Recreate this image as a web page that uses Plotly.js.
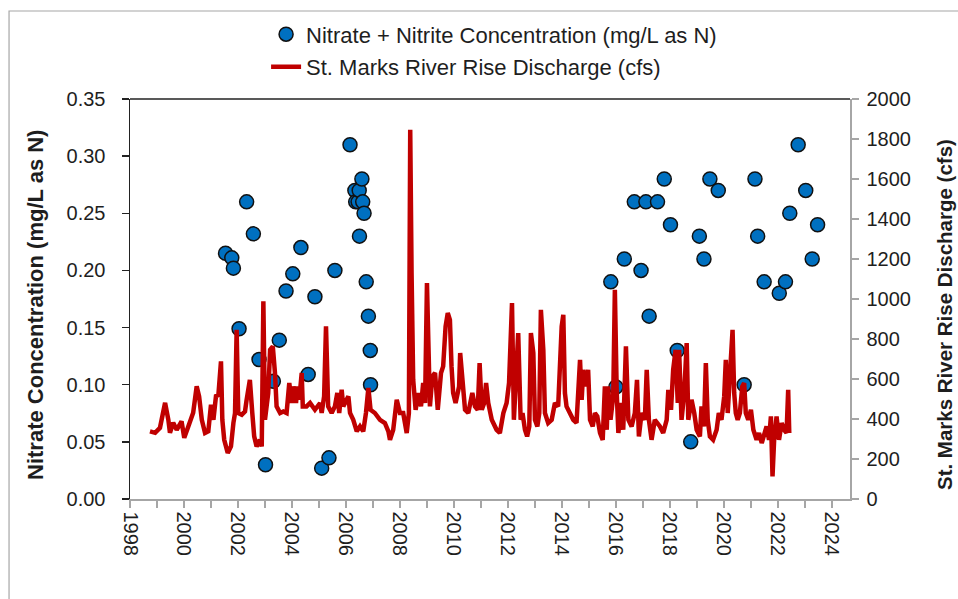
<!DOCTYPE html>
<html>
<head>
<meta charset="utf-8">
<script src="https://cdn.plot.ly/plotly-3.0.1.min.js"></script>
<style>
  html, body { margin: 0; padding: 0; background: #ffffff; }
  #chart { width: 958px; height: 599px; }
</style>
</head>
<body>
<div id="chart"></div>
<script>
// ---- Data ----
const nitrateYears = [
  2001.54, 2001.77, 2001.83, 2002.04, 2002.32, 2002.57, 2002.78, 2003.02, 2003.31, 2003.53,
  2003.78, 2004.03, 2004.33, 2004.60, 2004.85, 2005.10, 2005.37, 2005.59, 2006.15, 2006.33,
  2006.36, 2006.45, 2006.49, 2006.50, 2006.59, 2006.62, 2006.67, 2006.75, 2006.83, 2006.90,
  2006.91, 2015.81, 2016.00, 2016.31, 2016.68, 2016.93, 2017.11, 2017.23, 2017.54, 2017.79,
  2018.02, 2018.27, 2018.77, 2019.09, 2019.26, 2019.48, 2019.79, 2020.75, 2021.15, 2021.25,
  2021.49, 2022.05, 2022.28, 2022.44, 2022.75, 2023.03, 2023.27, 2023.47
];
const nitrateValues = [
  0.215, 0.211, 0.202, 0.149, 0.260, 0.232, 0.122, 0.030, 0.103, 0.139,
  0.182, 0.197, 0.220, 0.109, 0.177, 0.027, 0.036, 0.200, 0.310, 0.270,
  0.260, 0.260, 0.270, 0.230, 0.280, 0.260, 0.250, 0.190, 0.160, 0.130,
  0.100, 0.190, 0.098, 0.210, 0.260, 0.200, 0.260, 0.160, 0.260, 0.280,
  0.240, 0.130, 0.050, 0.230, 0.210, 0.280, 0.270, 0.100, 0.280, 0.230,
  0.190, 0.180, 0.190, 0.250, 0.310, 0.270, 0.210, 0.240
];

const dischargeYears = [
  1998.74, 1998.93, 1999.11, 1999.30, 1999.42, 1999.48, 1999.60, 1999.73, 1999.91, 2000.01,
  2000.16, 2000.34, 2000.47, 2000.56, 2000.66, 2000.78, 2000.90, 2001.00, 2001.09, 2001.19,
  2001.27, 2001.37, 2001.42, 2001.49, 2001.62, 2001.74, 2001.83, 2001.89, 2001.95, 2002.01,
  2002.14, 2002.26, 2002.32, 2002.44, 2002.53, 2002.60, 2002.69, 2002.81, 2002.88, 2002.94,
  2003.00, 2003.12, 2003.19, 2003.29, 2003.37, 2003.43, 2003.56, 2003.68, 2003.80, 2003.90,
  2003.99, 2004.05, 2004.15, 2004.20, 2004.27, 2004.36, 2004.40, 2004.54, 2004.67, 2004.85,
  2005.04, 2005.10, 2005.19, 2005.26, 2005.34, 2005.47, 2005.59, 2005.68, 2005.75, 2005.84,
  2005.90, 2006.00, 2006.09, 2006.15, 2006.27, 2006.40, 2006.52, 2006.64, 2006.74, 2006.83,
  2006.91, 2007.07, 2007.26, 2007.44, 2007.57, 2007.63, 2007.75, 2007.88, 2008.00, 2008.12,
  2008.25, 2008.33, 2008.38, 2008.43, 2008.49, 2008.58, 2008.68, 2008.78, 2008.86, 2008.93,
  2009.00, 2009.05, 2009.11, 2009.20, 2009.30, 2009.40, 2009.52, 2009.60, 2009.69, 2009.77,
  2009.85, 2009.91, 2009.97, 2010.06, 2010.19, 2010.23, 2010.31, 2010.41, 2010.53, 2010.68,
  2010.78, 2010.88, 2010.95, 2011.03, 2011.12, 2011.19, 2011.27, 2011.40, 2011.58, 2011.70,
  2011.83, 2011.95, 2012.04, 2012.15, 2012.22, 2012.38, 2012.47, 2012.54, 2012.63, 2012.71,
  2012.79, 2012.85, 2012.94, 2013.00, 2013.09, 2013.16, 2013.22, 2013.31, 2013.37, 2013.49,
  2013.62, 2013.74, 2013.86, 2013.93, 2013.99, 2014.05, 2014.11, 2014.17, 2014.30, 2014.42,
  2014.54, 2014.67, 2014.73, 2014.79, 2014.89, 2014.97, 2015.04, 2015.14, 2015.22, 2015.31,
  2015.41, 2015.51, 2015.59, 2015.66, 2015.71, 2015.80, 2015.90, 2015.96, 2016.03, 2016.09,
  2016.19, 2016.27, 2016.37, 2016.46, 2016.58, 2016.70, 2016.78, 2016.85, 2016.95, 2017.07,
  2017.14, 2017.22, 2017.32, 2017.44, 2017.63, 2017.75, 2017.88, 2017.94, 2018.04, 2018.12,
  2018.21, 2018.29, 2018.34, 2018.43, 2018.53, 2018.62, 2018.68, 2018.80, 2018.90, 2018.99,
  2019.11, 2019.17, 2019.26, 2019.33, 2019.40, 2019.48, 2019.60, 2019.73, 2019.81, 2019.91,
  2020.01, 2020.07, 2020.14, 2020.22, 2020.32, 2020.38, 2020.44, 2020.51, 2020.59, 2020.68,
  2020.75, 2020.81, 2020.90, 2021.00, 2021.09, 2021.21, 2021.30, 2021.40, 2021.49, 2021.58,
  2021.67, 2021.74, 2021.80, 2021.86, 2021.95, 2022.04, 2022.14, 2022.23, 2022.32, 2022.38,
  2022.42
];
const dischargeCfs = [
  338, 331, 356, 481, 396, 331, 381, 346, 388, 306,
  363, 431, 563, 513, 396, 330, 338, 471, 396, 521,
  513, 688, 396, 296, 230, 263, 380, 430, 846, 430,
  421, 438, 496, 596, 430, 313, 263, 296, 263, 988,
  396, 530, 746, 763, 630, 463, 430, 438, 430, 580,
  480, 563, 480, 563, 496, 630, 463, 463, 480, 446,
  480, 430, 513, 863, 463, 430, 463, 530, 430, 546,
  463, 496, 513, 430, 396, 338, 363, 338, 430, 555,
  446, 430, 396, 380, 338, 296, 346, 496, 430, 430,
  330, 430, 1846, 1130, 596, 446, 530, 463, 580, 480,
  1080, 796, 463, 613, 630, 446, 630, 663, 863, 930,
  896, 663, 530, 480, 563, 730, 596, 446, 430, 530,
  463, 446, 680, 446, 480, 580, 480, 396, 346, 330,
  430, 480, 580, 980, 396, 830, 396, 430, 346, 313,
  363, 830, 730, 396, 363, 430, 946, 746, 430, 380,
  396, 480, 463, 746, 863, 921, 530, 463, 430, 396,
  380, 696, 496, 646, 563, 646, 396, 363, 430, 413,
  330, 296, 563, 346, 563, 396, 513, 1046, 530, 330,
  480, 346, 763, 396, 363, 430, 596, 313, 430, 396,
  646, 396, 296, 396, 363, 330, 396, 546, 446, 646,
  746, 480, 746, 396, 530, 780, 396, 496, 430, 346,
  313, 463, 363, 680, 396, 313, 296, 346, 430, 396,
  513, 696, 430, 630, 846, 530, 430, 396, 430, 563,
  580, 430, 396, 446, 346, 296, 330, 280, 330, 363,
  296, 413, 113, 296, 413, 296, 380, 346, 330, 546,
  330
];

const xTickValues = [1998, 2000, 2002, 2004, 2006, 2008, 2010, 2012, 2014, 2016, 2018, 2020, 2022, 2024];
const xTickLabels = ['1998', '2000', '2002', '2004', '2006', '2008', '2010', '2012', '2014', '2016', '2018', '2020', '2022', '2024'];

const nitrateName = 'Nitrate + Nitrite Concentration (mg/L as N)';
const dischargeName = 'St. Marks River Rise Discharge (cfs)';
const leftTitle = 'Nitrate Concentration (mg/L as N)';
const rightTitle = 'St. Marks River Rise Discharge (cfs)';

// ---- Chart ----
const FONT = "'Liberation Sans', Arial, sans-serif";
const TXT = '#1e1e1e';

const traces = [
  {
    x: nitrateYears, y: nitrateValues,
    type: 'scatter', mode: 'markers', name: nitrateName,
    legendgroup: 'a',
    marker: { color: '#0070C0', size: 14, line: { color: '#111111', width: 1.5 } },
    yaxis: 'y', hoverinfo: 'x+y'
  },
  {
    x: dischargeYears, y: dischargeCfs,
    type: 'scatter', mode: 'lines', name: dischargeName,
    legendgroup: 'b',
    line: { color: '#C00000', width: 4.5 },
    yaxis: 'y2', hoverinfo: 'x+y'
  }
];

const layout = {
  width: 958, height: 599,
  margin: { l: 130, r: 108, t: 99, b: 100, pad: 0 },
  paper_bgcolor: '#ffffff', plot_bgcolor: '#ffffff',
  font: { family: FONT, size: 20, color: TXT },
  showlegend: true,
  legend: {
    x: 0.189, xanchor: 'left', y: 1.214, yanchor: 'top',
    bgcolor: 'rgba(0,0,0,0)', borderwidth: 0,
    font: { family: FONT, size: 22, color: TXT },
    traceorder: 'grouped', tracegroupgap: 1
  },
  xaxis: {
    range: [1998, 2024.67], tickmode: 'array', tickvals: xTickValues, ticktext: xTickLabels,
    tickangle: 90, ticks: 'outside', ticklen: 7, tickwidth: 1.3, tickcolor: '#a6a6a6',
    showline: true, linecolor: '#a6a6a6', linewidth: 1.5,
    showgrid: false, zeroline: false,
    minor: { dtick: 1, tick0: 1998, ticks: 'outside', ticklen: 7, tickwidth: 1.3, tickcolor: '#a6a6a6', showgrid: false },
    tickfont: { family: FONT, size: 20, color: TXT }
  },
  yaxis: {
    range: [0, 0.35], dtick: 0.05, tick0: 0, tickformat: '.2f',
    ticks: 'outside', ticklen: 7, tickwidth: 1.3, tickcolor: '#222222',
    showline: true, linecolor: '#222222', linewidth: 1.5,
    showgrid: false, zeroline: false, ticklabelstandoff: 12,
    tickfont: { family: FONT, size: 20, color: TXT }
  },
  yaxis2: {
    overlaying: 'y', side: 'right', range: [0, 2000], dtick: 200, tick0: 0,
    ticks: 'outside', ticklen: 7, tickwidth: 1.3, tickcolor: '#a6a6a6',
    showline: true, linecolor: '#a6a6a6', linewidth: 1.5,
    showgrid: false, zeroline: false, ticklabelstandoff: 4,
    tickfont: { family: FONT, size: 20, color: TXT }
  },
  annotations: [
    { text: leftTitle, xref: 'paper', yref: 'paper', x: -0.132, y: 0.485,
      xanchor: 'center', yanchor: 'middle', textangle: -90, showarrow: false,
      font: { family: FONT, size: 22, color: TXT, weight: 'bold' } },
    { text: rightTitle, xref: 'paper', yref: 'paper', x: 1.1306, y: 0.46,
      xanchor: 'center', yanchor: 'middle', textangle: -90, showarrow: false,
      borderpad: 0,
      font: { family: FONT, size: 20.5, color: TXT, weight: 'bold' } }
  ],
  shapes: [
    { type: 'line', xref: 'paper', yref: 'paper', x0: 0, x1: 1, y0: 1, y1: 1,
      line: { color: '#222222', width: 1.5 } },
    { type: 'rect', xref: 'paper', yref: 'paper', x0: -0.168, x1: 1.4, y0: -0.5, y1: 1.22,
      line: { color: '#a6a6a6', width: 1.2 }, fillcolor: 'rgba(0,0,0,0)', layer: 'below' }
  ]
};

Plotly.newPlot('chart', traces, layout, { displayModeBar: false, staticPlot: true });
</script>
</body>
</html>
